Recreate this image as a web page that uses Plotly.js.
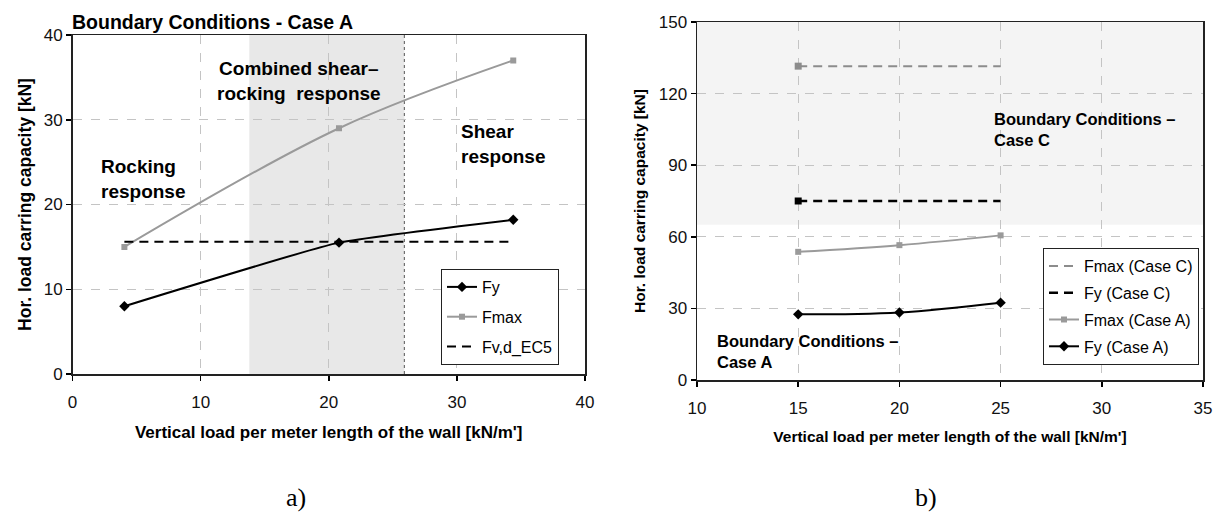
<!DOCTYPE html>
<html>
<head>
<meta charset="utf-8">
<script src="https://cdn.plot.ly/plotly-3.0.1.min.js"></script>
<style>html,body{margin:0;padding:0;background:#fff;}#chart{width:1219px;height:520px;}</style>
</head>
<body>
<div id="chart"></div>
<script>
// ---- Data: chart a) Boundary Conditions - Case A ----
const loadA = [4.05, 20.8, 34.4];
const fyA = [8.0, 15.5, 18.2];
const fmaxA = [15.0, 29.0, 37.0];
const fvdX = [4.05, 34.4];
const fvdY = [15.6, 15.6];
const regionA = [13.8, 25.9];           // combined shear-rocking zone (x)

// ---- Data: chart b) ----
const loadB = [15, 20, 25];
const fmaxCaseA = [53.7, 56.5, 60.6];
const fyCaseA = [27.5, 28.3, 32.4];
const caseCX = [15, 25];
const fmaxCaseC = [131.5, 131.5];
const fyCaseC = [75.0, 75.0];
const regionC = [65, 150];             // Case C zone (y)

const ticksAx = [0, 10, 20, 30, 40];
const ticksAy = [0, 10, 20, 30, 40];
const ticksBx = [10, 15, 20, 25, 30, 35];
const ticksBy = [0, 30, 60, 90, 120, 150];

const F = 'Liberation Sans, Arial, sans-serif';
const SERIF = 'Liberation Serif, Times New Roman, serif';
const GRAY = '#9a9a9a';

const traces = [
  {x: loadA, y: fyA, name: 'Fy', mode: 'lines+markers', xaxis: 'x', yaxis: 'y', legend: 'legend', legendgroup: 'a1',
   line: {color: '#000', width: 2, shape: 'spline', smoothing: 0.4}, marker: {symbol: 'diamond', size: 8, color: '#000'}},
  {x: loadA, y: fmaxA, name: 'Fmax', mode: 'lines+markers', xaxis: 'x', yaxis: 'y', legend: 'legend', legendgroup: 'a2',
   line: {color: GRAY, width: 2, shape: 'spline', smoothing: 1}, marker: {symbol: 'square', size: 6, color: GRAY}},
  {x: fvdX, y: fvdY, name: 'Fv,d_EC5', mode: 'lines', xaxis: 'x', yaxis: 'y', legend: 'legend', legendgroup: 'a3',
   line: {color: '#000', width: 2, dash: '9px,6px'}},

  {x: caseCX, y: fmaxCaseC, name: 'Fmax (Case C)', mode: 'lines', xaxis: 'x2', yaxis: 'y2', legend: 'legend2', legendgroup: 'b1',
   line: {color: '#8c8c8c', width: 2, dash: '9px,6px'}},
  {x: caseCX, y: fyCaseC, name: 'Fy (Case C)', mode: 'lines', xaxis: 'x2', yaxis: 'y2', legend: 'legend2', legendgroup: 'b2',
   line: {color: '#000', width: 2.5, dash: '9px,6px'}},
  {x: loadB, y: fmaxCaseA, name: 'Fmax (Case A)', mode: 'lines+markers', xaxis: 'x2', yaxis: 'y2', legend: 'legend2', legendgroup: 'b3',
   line: {color: GRAY, width: 2, shape: 'spline', smoothing: 1}, marker: {symbol: 'square', size: 6, color: GRAY}},
  {x: loadB, y: fyCaseA, name: 'Fy (Case A)', mode: 'lines+markers', xaxis: 'x2', yaxis: 'y2', legend: 'legend2', legendgroup: 'b4',
   line: {color: '#000', width: 2, shape: 'spline', smoothing: 1}, marker: {symbol: 'diamond', size: 8, color: '#000'}},
  // first-point markers of the Case C series
  {x: [caseCX[0]], y: [fmaxCaseC[0]], mode: 'markers', xaxis: 'x2', yaxis: 'y2', showlegend: false,
   marker: {symbol: 'square', size: 7, color: '#8c8c8c'}},
  {x: [caseCX[0]], y: [fyCaseC[0]], mode: 'markers', xaxis: 'x2', yaxis: 'y2', showlegend: false,
   marker: {symbol: 'square', size: 7, color: '#000'}}
];

function axisBase(extra) {
  return Object.assign({
    showline: true, mirror: true, linecolor: '#222', linewidth: 1.5,
    ticks: 'outside', ticklen: 5, tickcolor: '#000', tickwidth: 1.5,
    showgrid: true, gridcolor: '#c4c4c4', gridwidth: 1, griddash: 'dash',
    zeroline: false, tickfont: {family: F, size: 17, color: '#111'},
    fixedrange: true, automargin: false
  }, extra);
}

const layout = {
  width: 1219, height: 520,
  margin: {l: 0, r: 0, t: 0, b: 0},
  paper_bgcolor: '#fff', plot_bgcolor: 'rgba(0,0,0,0)',
  showlegend: true,
  title: {text: 'Boundary Conditions - Case A', font: {family: F, size: 19.5, color: '#000', weight: 'bold'},
          x: 72 / 1219, xanchor: 'left', xref: 'container', y: 1 - 22 / 520, yanchor: 'middle', yref: 'container'},
  xaxis: axisBase({domain: [72.5 / 1219, 585 / 1219], range: [0, 40], tickvals: ticksAx, anchor: 'y',
    ticklabelstandoff: 7,
    title: {text: "Vertical load per meter length of the wall [kN/m']", font: {family: F, size: 17, color: '#000', weight: 'bold'}, standoff: 15}}),
  yaxis: axisBase({domain: [1 - 374 / 520, 1 - 35 / 520], range: [0, 40], tickvals: ticksAy, anchor: 'x',
    title: {text: 'Hor. load carring capacity [kN]', font: {family: F, size: 17.5, color: '#000', weight: 'bold'}, standoff: 7}}),
  xaxis2: axisBase({domain: [697 / 1219, 1203 / 1219], range: [10, 35], tickvals: ticksBx, anchor: 'y2',
    ticklabelstandoff: 7,
    title: {text: "Vertical load per meter length of the wall [kN/m']", font: {family: F, size: 15.5, color: '#000', weight: 'bold'}, standoff: 14}}),
  yaxis2: axisBase({domain: [1 - 380 / 520, 1 - 22 / 520], range: [0, 150], tickvals: ticksBy, anchor: 'x2',
    title: {text: 'Hor. load carring capacity [kN]', font: {family: F, size: 15.5, color: '#000', weight: 'bold'}, standoff: 9}}),
  legend: {x: 441 / 1219, y: 1 - 269 / 520, xanchor: 'left', yanchor: 'top', xref: 'paper', yref: 'paper',
    bgcolor: '#fff', bordercolor: '#222', borderwidth: 1, font: {family: F, size: 16, color: '#000'},
    tracegroupgap: 6, traceorder: 'grouped'},
  legend2: {x: 1043 / 1219, y: 1 - 248 / 520, xanchor: 'left', yanchor: 'top', xref: 'paper', yref: 'paper',
    bgcolor: '#fff', bordercolor: '#222', borderwidth: 1, font: {family: F, size: 16, color: '#000'},
    tracegroupgap: 3, traceorder: 'grouped'},
  shapes: [
    {type: 'rect', xref: 'x', yref: 'y domain', x0: regionA[0], x1: regionA[1], y0: 0, y1: 1,
     fillcolor: '#e8e8e8', line: {width: 0}, layer: 'below'},
    {type: 'line', xref: 'x', yref: 'y domain', x0: regionA[1], x1: regionA[1], y0: 0, y1: 1,
     line: {color: '#555', width: 1, dash: 'dot'}, layer: 'below'},
    {type: 'rect', xref: 'x2 domain', yref: 'y2', x0: 0, x1: 1, y0: regionC[0], y1: regionC[1],
     fillcolor: '#f4f4f4', line: {width: 0}, layer: 'below'}
  ],
  annotations: [
    {text: 'Rocking<br>response', xref: 'x', yref: 'y', x: 2.1, y: 23.0, xanchor: 'left', yanchor: 'middle', align: 'left',
     showarrow: false, font: {family: F, size: 19, color: '#000', weight: 'bold'}},
    {text: 'Combined shear–<br>rocking  response', xref: 'x', yref: 'y', x: 17.7, y: 34.6, xanchor: 'center', yanchor: 'middle', align: 'center',
     showarrow: false, font: {family: F, size: 19, color: '#000', weight: 'bold'}},
    {text: 'Shear<br>response', xref: 'x', yref: 'y', x: 30.2, y: 27.1, xanchor: 'left', yanchor: 'middle', align: 'left',
     showarrow: false, font: {family: F, size: 19, color: '#000', weight: 'bold'}},
    {text: 'Boundary Conditions –<br>Case C', xref: 'x2', yref: 'y2', x: 24.57, y: 104.9, xanchor: 'left', yanchor: 'middle', align: 'left',
     showarrow: false, font: {family: F, size: 16.5, color: '#000', weight: 'bold'}},
    {text: 'Boundary Conditions –<br>Case A', xref: 'x2', yref: 'y2', x: 10.9, y: 12.1, xanchor: 'left', yanchor: 'middle', align: 'left',
     showarrow: false, font: {family: F, size: 16.5, color: '#000', weight: 'bold'}},
    {text: 'a)', xref: 'paper', yref: 'paper', x: 296 / 1219, y: 1 - 497 / 520, xanchor: 'center', yanchor: 'middle',
     showarrow: false, font: {family: SERIF, size: 26, color: '#000'}},
    {text: 'b)', xref: 'paper', yref: 'paper', x: 926 / 1219, y: 1 - 497 / 520, xanchor: 'center', yanchor: 'middle',
     showarrow: false, font: {family: SERIF, size: 26, color: '#000'}}
  ]
};

Plotly.newPlot('chart', traces, layout, {staticPlot: true, displayModeBar: false});
</script>
</body>
</html>
